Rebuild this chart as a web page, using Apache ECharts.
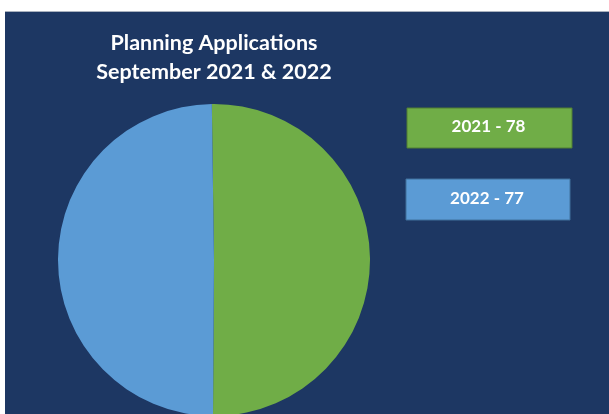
<!DOCTYPE html>
<html>
<head>
<meta charset="utf-8">
<script src="https://cdn.jsdelivr.net/npm/echarts@6/dist/echarts.min.js"></script>
<style>
html,body{margin:0;padding:0;background:#fff;}
#c{width:609px;height:414px;}
</style>
</head>
<body>
<div id="c"></div>
<script>
const years = ['2021', '2022'];
const applications = [78, 77];
const colors = ['#70AD47', '#5B9BD5'];
const borderColors = ['#507E32', '#41719C'];
const titleLines = ['Planning Applications', 'September 2021 & 2022'];

const chart = echarts.init(document.getElementById('c'));
const font = 'Lato, "Open Sans", sans-serif';

const legendBoxes = [
  {x: 407, y: 108, w: 165, h: 40},
  {x: 406, y: 179, w: 164, h: 41}
];

const graphics = [
  {type: 'rect', z: -10, shape: {x: 5, y: 11, width: 604, height: 403}, style: {fill: '#1D3763'}},
  {type: 'rect', z: -9, shape: {x: 5, y: 11, width: 604, height: 1}, style: {fill: '#A9B1BE'}}
];
years.forEach((y, i) => {
  const b = legendBoxes[i];
  graphics.push({
    type: 'rect',
    shape: {x: b.x, y: b.y, width: b.w, height: b.h},
    style: {fill: colors[i], stroke: borderColors[i], lineWidth: 1}
  });
  graphics.push({
    type: 'text',
    x: b.x + b.w / 2 - 1,
    y: b.y + b.h / 2 - 1,
    style: {
      text: y + ' - ' + applications[i],
      fill: '#fff',
      font: 'bold 17px ' + font,
      textAlign: 'center',
      textVerticalAlign: 'middle'
    }
  });
});

chart.setOption({
  backgroundColor: '#ffffff',
  animation: false,
  title: {
    text: titleLines.join('\n'),
    left: 209,
    top: 24,
    textAlign: 'center',
    textStyle: {
      color: '#ffffff',
      fontFamily: font,
      fontWeight: 'bold',
      fontSize: 21.5,
      lineHeight: 29
    }
  },
  graphic: graphics,
  series: [{
    type: 'pie',
    center: [214, 260],
    radius: 156,
    startAngle: 90.8,
    clockwise: true,
    label: {show: false},
    labelLine: {show: false},
    silent: true,
    itemStyle: {borderWidth: 0},
    data: years.map((y, i) => ({name: y, value: applications[i], itemStyle: {color: colors[i]}}))
  }]
});
</script>
</body>
</html>
